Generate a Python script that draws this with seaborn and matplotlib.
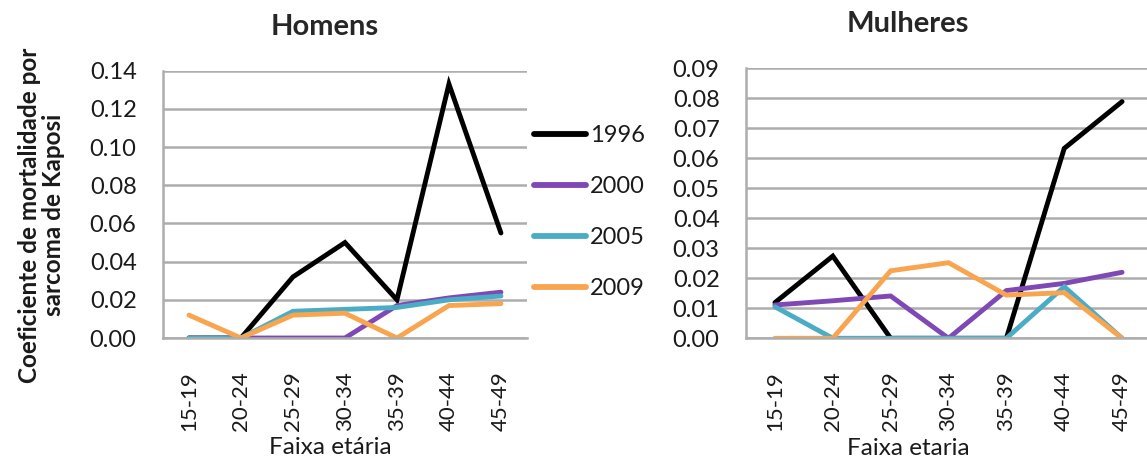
import matplotlib
matplotlib.use("Agg")
import matplotlib.pyplot as plt
from matplotlib.lines import Line2D
import seaborn as sns
import pandas as pd

# Age groups and years
faixas = ["15-19", "20-24", "25-29", "30-34", "35-39", "40-44", "45-49"]
anos = ["1996", "2000", "2005", "2009"]

# Mortality coefficients for Kaposi sarcoma, men
homens_1996 = [0.000, 0.000, 0.032, 0.050, 0.020, 0.133, 0.055]
homens_2000 = [0.000, 0.000, 0.000, 0.000, 0.017, 0.021, 0.024]
homens_2005 = [0.000, 0.000, 0.014, 0.015, 0.016, 0.020, 0.022]
homens_2009 = [0.012, 0.000, 0.012, 0.013, 0.000, 0.017, 0.018]

# Mortality coefficients for Kaposi sarcoma, women
mulheres_1996 = [0.0119, 0.0274, 0.000, 0.000, 0.000, 0.0633, 0.0789]
mulheres_2000 = [0.0111, 0.0125, 0.0141, 0.000, 0.0159, 0.0183, 0.0220]
mulheres_2005 = [0.0105, 0.000, 0.000, 0.000, 0.000, 0.0172, 0.000]
mulheres_2009 = [0.000, 0.000, 0.0225, 0.0252, 0.0144, 0.0152, 0.000]

cores = ["#000000", "#7E48B5", "#4BACC6", "#F9A550"]

sns.set_theme(style="white")
plt.rcParams["font.family"] = ["Lato", "DejaVu Sans"]


def long_form(series):
    rows = []
    for ano, vals in zip(anos, series):
        for f, v in zip(faixas, vals):
            rows.append({"faixa": f, "ano": ano, "valor": v})
    return pd.DataFrame(rows)


df_h = long_form([homens_1996, homens_2000, homens_2005, homens_2009])
df_m = long_form([mulheres_1996, mulheres_2000, mulheres_2005, mulheres_2009])

fig = plt.figure(figsize=(11.47, 4.59), dpi=100)
ax1 = fig.add_axes([0.1421, 0.2636, 0.3173, 0.5824])
ax2 = fig.add_axes([0.6504, 0.2630, 0.3531, 0.5882])

grid_c = "#ADADAD"
tick_fs = 17
text_c = "#1a1a1a"


def style_axis(ax, df, ymax, step, titulo, title_x, xlabel, xlabel_x):
    sns.lineplot(data=df, x="faixa", y="valor", hue="ano", palette=cores,
                 hue_order=anos, linewidth=3.5, sort=False, legend=False,
                 ax=ax, solid_capstyle="round", solid_joinstyle="miter")
    ax.set_xlim(-0.5, len(faixas) - 0.5)
    ax.set_ylim(0, ymax)
    ticks = [round(i * step, 2) for i in range(int(round(ymax / step)) + 1)]
    ax.set_yticks(ticks)
    ax.set_yticklabels([f"{t:.2f}" for t in ticks], fontsize=tick_fs, color=text_c)
    ax.set_xticks(range(len(faixas)))
    ax.set_xticklabels(faixas, rotation=90, fontsize=16, color=text_c)
    ax.tick_params(axis="y", length=0, pad=19)
    ax.tick_params(axis="x", length=0, pad=24)
    ax.yaxis.grid(True, color=grid_c, linewidth=1.8)
    ax.set_axisbelow(True)
    for s in ["top", "right"]:
        ax.spines[s].set_visible(False)
    for s in ["left", "bottom"]:
        ax.spines[s].set_color(grid_c)
        ax.spines[s].set_linewidth(1.8)
    ax.set_title(titulo, fontsize=21, fontweight="bold", pad=26)
    ax.title.set_x(title_x)
    ax.set_xlabel(xlabel, fontsize=17.5, color=text_c)
    ax.xaxis.set_label_coords(xlabel_x, -0.37)
    ax.set_ylabel("")


style_axis(ax1, df_h, 0.14, 0.02, "Homens", 0.445, "Faixa etária", 0.459)
style_axis(ax2, df_m, 0.09, 0.01, "Mulheres", 0.40, "Faixa etaria", 0.40)

ax1.set_ylabel("Coeficiente de mortalidade por\nsarcoma de Kaposi",
               fontsize=17.5, fontweight="bold", linespacing=1.1, color=text_c)
ax1.yaxis.set_label_coords(-0.268, 0.46)

handles = [Line2D([0], [0], color=c, linewidth=4.2, solid_capstyle="round") for c in cores]
fig.legend(handles, anos, loc="upper left", bbox_to_anchor=(0.457, 0.748),
           frameon=False, fontsize=tick_fs, handlelength=2.2, handletextpad=0.2,
           labelspacing=1.27, borderaxespad=0, labelcolor=text_c)

fig.savefig("out.png", dpi=100)
